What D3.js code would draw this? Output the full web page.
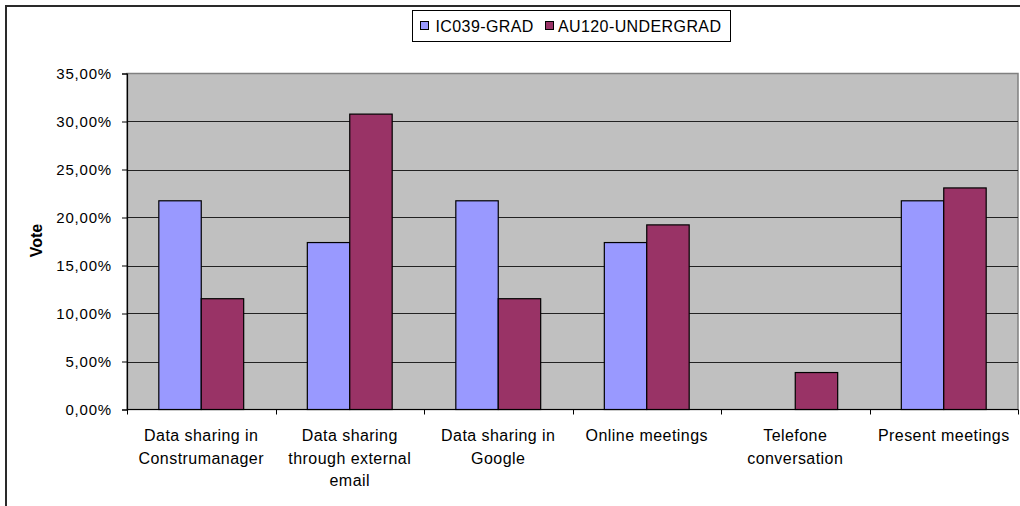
<!DOCTYPE html>
<html>
<head>
<meta charset="utf-8">
<script src="https://cdn.jsdelivr.net/npm/d3@7"></script>
<style>
  html, body { margin: 0; padding: 0; background: #ffffff; }
  svg { display: block; font-family: "Liberation Sans", Arial, sans-serif; }
</style>
</head>
<body>
<svg id="chart" width="1020" height="506"></svg>
<script>
// Category labels (line breaks mark the wrapped label lines)
const categories = [
  "Data sharing in\nConstrumanager",
  "Data sharing\nthrough external\nemail",
  "Data sharing in\nGoogle",
  "Online meetings",
  "Telefone\nconversation",
  "Present meetings"
];
const seriesNames = ["IC039-GRAD", "AU120-UNDERGRAD"];
const gradValues = [0.2174, 0.1739, 0.2174, 0.1739, 0.0, 0.2174];
const undergradValues = [0.1154, 0.3077, 0.1154, 0.1923, 0.0385, 0.2308];
const yTicks = [0, 0.05, 0.10, 0.15, 0.20, 0.25, 0.30, 0.35];
const yTitle = "Vote";

const colors = { "IC039-GRAD": "#9999FF", "AU120-UNDERGRAD": "#993366" };

const svg = d3.select("#chart");
const plot = { left: 127, right: 1018, top: 73.5, bottom: 409.5 };

// Outer chart frame
svg.append("rect")
  .attr("x", 6).attr("y", 6)
  .attr("width", 1040).attr("height", 520)
  .attr("fill", "#ffffff")
  .attr("stroke", "#2a2a2a").attr("stroke-width", 2);

const x0 = d3.scaleBand().domain(categories).range([plot.left, plot.right]).padding(0);
const x1 = d3.scaleBand().domain(seriesNames).range([0, x0.bandwidth()])
  .paddingInner(0).paddingOuter(0.75);
const y = d3.scaleLinear().domain([0, 0.35]).range([plot.bottom, plot.top]);

const pct = d3.formatLocale({ decimal: ",", thousands: ".", grouping: [3], currency: ["", ""] }).format(".2%");

// Plot area background
svg.append("rect")
  .attr("x", plot.left).attr("y", plot.top)
  .attr("width", plot.right - plot.left).attr("height", plot.bottom - plot.top)
  .attr("fill", "#C0C0C0")
  .attr("stroke", "#808080").attr("stroke-width", 1.5);

// Horizontal gridlines
svg.append("g").selectAll("line")
  .data(yTicks.filter(t => t > 0 && t < 0.35))
  .join("line")
  .attr("x1", plot.left).attr("x2", plot.right)
  .attr("y1", d => Math.round(y(d)) + 0.5).attr("y2", d => Math.round(y(d)) + 0.5)
  .attr("stroke", "#222").attr("stroke-width", 1);

// Bars
const rows = categories.map((c, i) => ({
  cat: c,
  vals: [
    { s: seriesNames[0], v: gradValues[i] },
    { s: seriesNames[1], v: undergradValues[i] }
  ]
}));

const groups = svg.append("g").selectAll("g")
  .data(rows).join("g")
  .attr("transform", d => `translate(${x0(d.cat)},0)`);

groups.selectAll("rect")
  .data(d => d.vals.filter(e => e.v > 0))
  .join("rect")
  .attr("x", d => x1(d.s))
  .attr("width", x1.bandwidth())
  .attr("y", d => y(d.v))
  .attr("height", d => y(0) - y(d.v))
  .attr("fill", d => colors[d.s])
  .attr("stroke", "#000").attr("stroke-width", 1.2);

// Y axis
const yAxis = svg.append("g")
  .attr("transform", `translate(${plot.left},0)`)
  .call(d3.axisLeft(y).tickValues(yTicks).tickFormat(pct).tickSize(5).tickPadding(10));
yAxis.select(".domain").attr("stroke", "#000").attr("stroke-width", 1.2);
yAxis.selectAll(".tick line").attr("stroke", "#000");
yAxis.selectAll(".tick text")
  .attr("fill", "#000")
  .style("font-size", "15px")
  .style("letter-spacing", "0.8px")
  .style("font-family", "'Liberation Sans', Arial, sans-serif");

// X axis line and category boundary ticks
svg.append("line")
  .attr("x1", plot.left).attr("x2", plot.right)
  .attr("y1", plot.bottom).attr("y2", plot.bottom)
  .attr("stroke", "#000").attr("stroke-width", 1.2);
const boundaries = categories.map(c => x0(c)).concat([plot.right]);
svg.append("g").selectAll("line")
  .data(boundaries).join("line")
  .attr("x1", d => Math.round(d) + 0.5).attr("x2", d => Math.round(d) + 0.5)
  .attr("y1", plot.bottom).attr("y2", plot.bottom + 5)
  .attr("stroke", "#000");

// Category labels
const xl = svg.append("g").selectAll("text")
  .data(categories).join("text")
  .attr("x", d => x0(d) + x0.bandwidth() / 2)
  .attr("y", 441)
  .attr("text-anchor", "middle")
  .attr("fill", "#000")
  .style("font-size", "16px")
  .style("letter-spacing", "0.45px");
xl.selectAll("tspan")
  .data(d => d.split("\n").map(line => ({ line, cx: x0(d) + x0.bandwidth() / 2 })))
  .join("tspan")
  .attr("x", d => d.cx)
  .attr("dy", (d, i) => i === 0 ? 0 : 22.5)
  .text(d => d.line);

// Y axis title
svg.append("text")
  .attr("transform", "translate(42,240.5) rotate(-90)")
  .attr("text-anchor", "middle")
  .attr("fill", "#000")
  .style("font-size", "16px")
  .style("font-weight", "bold")
  .text(yTitle);

// Legend
const legend = svg.append("g");
legend.append("rect")
  .attr("x", 412.5).attr("y", 10.5)
  .attr("width", 318).attr("height", 31)
  .attr("fill", "#fff").attr("stroke", "#000").attr("stroke-width", 1);
const legendPos = [{ sx: 420.5, tx: 435.5 }, { sx: 545.5, tx: 558 }];
const items = legend.selectAll("g.item")
  .data(seriesNames).join("g").attr("class", "item");
items.append("rect")
  .attr("x", (d, i) => legendPos[i].sx).attr("y", 21.5)
  .attr("width", 8).attr("height", 8)
  .attr("fill", d => colors[d]).attr("stroke", "#000").attr("stroke-width", 1);
items.append("text")
  .attr("x", (d, i) => legendPos[i].tx).attr("y", 32)
  .attr("fill", "#000")
  .style("font-size", "16px")
  .style("letter-spacing", "0.4px")
  .text(d => d);
</script>
</body>
</html>
